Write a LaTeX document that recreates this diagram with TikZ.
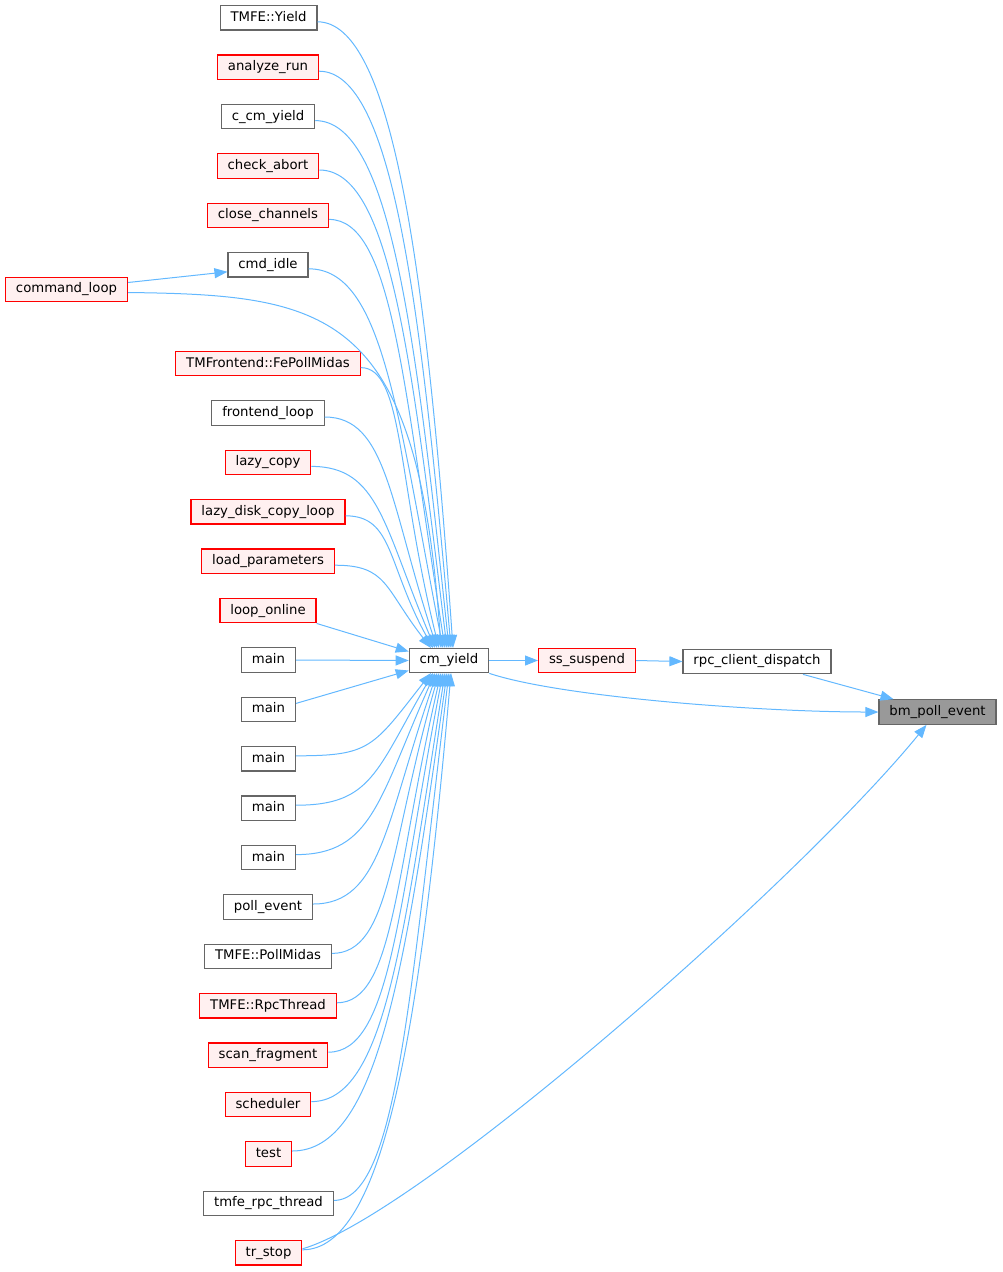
\documentclass[tikz,border=0pt]{standalone}
\usepackage{fontspec}
\setmainfont{DejaVu Sans}
\usetikzlibrary{arrows.meta,calc}

\definecolor{edgeblue}{RGB}{99,184,255}
\definecolor{boxgray}{RGB}{102,102,102}
\definecolor{redfill}{RGB}{255,240,240}
\definecolor{rootfill}{RGB}{153,153,153}

\tikzset{
  fn/.style={draw=boxgray, fill=white, line width=1.2bp, inner xsep=10.4bp, inner ysep=0pt,
    minimum height=24.5bp, text height=9.8bp, text depth=3bp,
    font=\fontsize{13.3}{16}\selectfont},
  redfn/.style={fn, draw=red, fill=redfill},
  rootfn/.style={fn, fill=rootfill},
  call/.style={draw=edgeblue, line width=1bp, -{Triangle[length=13bp,width=10bp]}},
}

\begin{document}
\begin{tikzpicture}[x=1bp,y=1bp]
\useasboundingbox (0,0) rectangle (1003,-1272);

% the column of callers
\node[fn]    (tmfeyield)     at (268.5,-17.8)  {TMFE::Yield};
\node[redfn] (analyzerun)    at (268,-67.2)    {analyze\_run};
\node[fn]    (ccmyield)      at (268,-116.6)   {c\_cm\_yield};
\node[redfn] (checkabort)    at (268,-166)     {check\_abort};
\node[redfn] (closechannels) at (268,-215.4)   {close\_channels};
\node[fn]    (cmdidle)       at (268,-264.8)   {cmd\_idle};
\node[redfn] (commandloop)   at (66.5,-289.5)  {command\_loop};
\node[redfn] (fepollmidas)   at (268,-363.6)   {TMFrontend::FePollMidas};
\node[fn]    (frontendloop)  at (268,-413)     {frontend\_loop};
\node[redfn] (lazycopy)      at (268,-462.4)   {lazy\_copy};
\node[redfn] (lazydiskcopy)  at (268,-511.8)   {lazy\_disk\_copy\_loop};
\node[redfn] (loadparams)    at (268,-561.2)   {load\_parameters};
\node[redfn] (looponline)    at (268,-610.6)   {loop\_online};
\node[fn]    (mainA)         at (268.5,-660)   {main};
\node[fn]    (mainB)         at (268.5,-709.4) {main};
\node[fn]    (mainC)         at (268.5,-758.8) {main};
\node[fn]    (mainD)         at (268.5,-808.2) {main};
\node[fn]    (mainE)         at (268.5,-857.6) {main};
\node[fn]    (pollevent)     at (268,-907)     {poll\_event};
\node[fn]    (tmfepollmidas) at (268,-956.4)   {TMFE::PollMidas};
\node[redfn] (tmferpcthread) at (268,-1005.8)  {TMFE::RpcThread};
\node[redfn] (scanfragment)  at (268,-1055.2)  {scan\_fragment};
\node[redfn] (scheduler)     at (268,-1104.6)  {scheduler};
\node[redfn] (test)          at (268.5,-1154)  {test};
\node[fn]    (tmferpc)       at (268.5,-1203.4) {tmfe\_rpc\_thread};
\node[redfn] (trstop)        at (268.5,-1252.8) {tr\_stop};

% the call chain down to bm_poll_event
\node[fn]     (cmyield)   at (449,-660.5)   {cm\_yield};
\node[redfn]  (sssuspend) at (587,-660.5)   {ss\_suspend};
\node[fn]     (rpcdisp)   at (757,-661.5)   {rpc\_client\_dispatch};
\node[rootfn] (bmpoll)    at (937.5,-712)   {bm\_poll\_event};

% callers above cm_yield
\foreach \src/\ex/\ang in {tmfeyield/453/94, analyzerun/451/95, ccmyield/449/96,
    checkabort/447/97, closechannels/445/99, cmdidle/443/101, fepollmidas/439/104,
    frontendloop/437/108, lazycopy/435/113, lazydiskcopy/433/119, loadparams/431/128}
  \draw[call] let \p1=($(\src.east)+(0,-4)$), \p2=(\ex,-648), \n1={veclen(\x2-\x1,\y2-\y1)} in
    (\p1) .. controls ({\x1+0.55*(\x2-\x1)},\y1) and ({\x2+0.6*\n1*cos(\ang)},{\y2+0.6*\n1*sin(\ang)}) .. (\p2);

% callers below cm_yield
\foreach \src/\ex/\ang in {mainC/431/232, mainD/433/240, mainE/435/246, pollevent/437/251,
    tmfepollmidas/439/254, tmferpcthread/441/257, scanfragment/443/259, scheduler/445/261,
    test/447/262, tmferpc/449/263, trstop/451/265}
  \draw[call] let \p1=($(\src.east)+(0,3)$), \p2=(\ex,-673), \n1={veclen(\x2-\x1,\y2-\y1)} in
    (\p1) .. controls ({\x1+0.55*(\x2-\x1)},\y1) and ({\x2+0.6*\n1*cos(\ang)},{\y2+0.6*\n1*sin(\ang)}) .. (\p2);

% callers level with cm_yield
\draw[call] (looponline.south east) -- ([yshift=9bp]cmyield.west);
\draw[call] (mainA.east) -- (cmyield.west);
\draw[call] ([yshift=6bp]mainB.east) -- ([yshift=-10bp]cmyield.west);

% command_loop calls cmd_idle and cm_yield
\draw[call] ([yshift=7bp]commandloop.east) -- ([yshift=-7bp]cmdidle.west);
\draw[call] ([yshift=-3bp]commandloop.east) .. controls (330,-295) and (418,-310) .. (441,-648);

% down the chain
\draw[call] (cmyield.east) -- (sssuspend.west);
\draw[call] (sssuspend.east) -- (rpcdisp.west);
\draw[call] ([xshift=46bp]rpcdisp.south) -- ([xshift=-44bp]bmpoll.north);
\draw[call] (cmyield.south east) .. controls (560,-697) and (760,-712) .. (bmpoll.west);
\draw[call] ([yshift=4bp]trstop.east) .. controls (420,-1215) and (800,-880) .. ([xshift=-11bp]bmpoll.south);

\end{tikzpicture}
\end{document}
